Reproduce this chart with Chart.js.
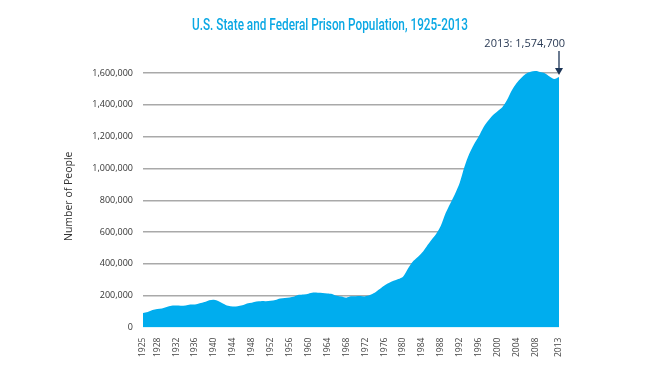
<!DOCTYPE html>
<html>
<head>
<meta charset="utf-8">
<script src="https://cdn.jsdelivr.net/npm/chart.js@4"></script>
<style>
  html, body { margin: 0; padding: 0; background: #fff; }
  #wrap { width: 650px; height: 367px; }
</style>
</head>
<body>
<div id="wrap"><canvas id="prisonChart"></canvas></div>
<script>
const years = [
    1925, 1926, 1927, 1928, 1929, 1930, 1931, 1932, 1933, 1934,
    1935, 1936, 1937, 1938, 1939, 1940, 1941, 1942, 1943, 1944,
    1945, 1946, 1947, 1948, 1949, 1950, 1951, 1952, 1953, 1954,
    1955, 1956, 1957, 1958, 1959, 1960, 1961, 1962, 1963, 1964,
    1965, 1966, 1967, 1968, 1969, 1970, 1971, 1972, 1973, 1974,
    1975, 1976, 1977, 1978, 1979, 1980, 1981, 1982, 1983, 1984,
    1985, 1986, 1987, 1988, 1989, 1990, 1991, 1992, 1993, 1994,
    1995, 1996, 1997, 1998, 1999, 2000, 2001, 2002, 2003, 2004,
    2005, 2006, 2007, 2008, 2009, 2010, 2011, 2012, 2013
];

const population = [
    91700, 98000, 110000, 116400, 120500, 129500, 137100, 138000, 136800, 138300,
    144200, 145000, 152700, 160300, 172000, 175000, 165400, 150400, 137200, 132500,
    133600, 140100, 151300, 156000, 163700, 166100, 165700, 168200, 173600, 182900,
    185800, 189600, 195400, 205600, 208100, 213000, 220100, 218800, 217300, 214300,
    210900, 199700, 194900, 187900, 196000, 196400, 198100, 196100, 204200, 218500,
    240600, 262800, 280000, 294000, 305000, 320000, 368000, 412000, 440000, 470000,
    510000, 550000, 588000, 640000, 718000, 780000, 840000, 910000, 1010000, 1090000,
    1150000, 1200000, 1258000, 1300000, 1335000, 1360000, 1385000, 1430000, 1490000, 1535000,
    1568000, 1595000, 1608000, 1612000, 1606000, 1598000, 1578000, 1562000, 1574700
];

const tickYears = [1925, 1928, 1932, 1936, 1940, 1944, 1948, 1952, 1956, 1960, 1964,
    1968, 1972, 1976, 1980, 1984, 1988, 1992, 1996, 2000, 2004, 2008, 2013];

const yTicks = [0, 200000, 400000, 600000, 800000, 1000000, 1200000, 1400000, 1600000];

const chartTitle = 'U.S. State and Federal Prison Population, 1925-2013';
const calloutText = '2013: 1,574,700';

// title in a condensed look, squeezed to the reference width
const titlePlugin = {
    id: 'condensedTitle',
    afterDraw(chart) {
        const ctx = chart.ctx;
        ctx.save();
        ctx.font = '500 17px "Liberation Sans Narrow", "Roboto", sans-serif';
        ctx.fillStyle = '#0aa8e4';
        ctx.textAlign = 'center';
        ctx.textBaseline = 'alphabetic';
        const w = ctx.measureText(chartTitle).width;
        ctx.translate(330, 30);
        ctx.scale(276 / w, 1);
        ctx.fillText(chartTitle, 0, 0);
        ctx.restore();
    }
};

// arrow + label pointing at the last data point
const calloutPlugin = {
    id: 'callout',
    afterDraw(chart) {
        const ctx = chart.ctx;
        const last = population.length - 1;
        const x = chart.scales.x.getPixelForValue(last);
        const y = chart.scales.y.getPixelForValue(population[last]) - 2;
        ctx.save();
        ctx.strokeStyle = '#1c3557';
        ctx.fillStyle = '#1c3557';
        ctx.lineWidth = 1.3;
        ctx.beginPath();
        ctx.moveTo(x, 51);
        ctx.lineTo(x, y - 5);
        ctx.stroke();
        ctx.beginPath();
        ctx.moveTo(x - 4, y - 7);
        ctx.lineTo(x + 4, y - 7);
        ctx.lineTo(x, y);
        ctx.closePath();
        ctx.fill();
        ctx.font = '11px "Open Sans", sans-serif';
        ctx.fillStyle = '#2a3b55';
        ctx.textAlign = 'right';
        ctx.fillText(calloutText, x + 6, 47);
        ctx.restore();
    }
};

new Chart(document.getElementById('prisonChart'), {
    type: 'line',
    data: {
        labels: years,
        datasets: [{
            data: population,
            fill: 'origin',
            backgroundColor: '#00adee',
            borderWidth: 0,
            pointRadius: 0,
            tension: 0.3
        }]
    },
    options: {
        responsive: true,
        maintainAspectRatio: false,
        animation: false,
        layout: { padding: { top: 65, left: 58, right: 91, bottom: 0 } },
        plugins: {
            legend: { display: false },
            tooltip: { enabled: false }
        },
        scales: {
            x: {
                offset: false,
                grid: { display: false, drawTicks: false },
                border: { display: false },
                ticks: {
                    autoSkip: false,
                    minRotation: 90,
                    maxRotation: 90,
                    padding: 10,
                    color: '#444',
                    font: { family: '"Open Sans", sans-serif', size: 8.5 },
                    callback: function (val, i) {
                        return tickYears.includes(years[i]) ? String(years[i]) : null;
                    }
                }
            },
            y: {
                min: 0,
                max: 1650000,
                afterBuildTicks: function (scale) {
                    scale.ticks = yTicks.map(v => ({ value: v }));
                },
                afterFit: function (scale) { scale.width = 85; },
                grid: {
                    color: ctx => ctx.tick.value === 0 ? 'rgba(0,0,0,0)' : '#a9a9a9',
                    lineWidth: 1.5,
                    drawTicks: false
                },
                border: { display: false },
                ticks: {
                    padding: 10,
                    color: '#333',
                    font: { family: '"Open Sans", sans-serif', size: 9 },
                    callback: v => v.toLocaleString('en-US')
                },
                title: {
                    display: true,
                    text: 'Number of People',
                    color: '#333',
                    font: { family: '"Open Sans", sans-serif', size: 10.5 },
                    padding: { top: 5, bottom: 0 }
                }
            }
        }
    },
    plugins: [titlePlugin, calloutPlugin]
});
</script>
</body>
</html>
